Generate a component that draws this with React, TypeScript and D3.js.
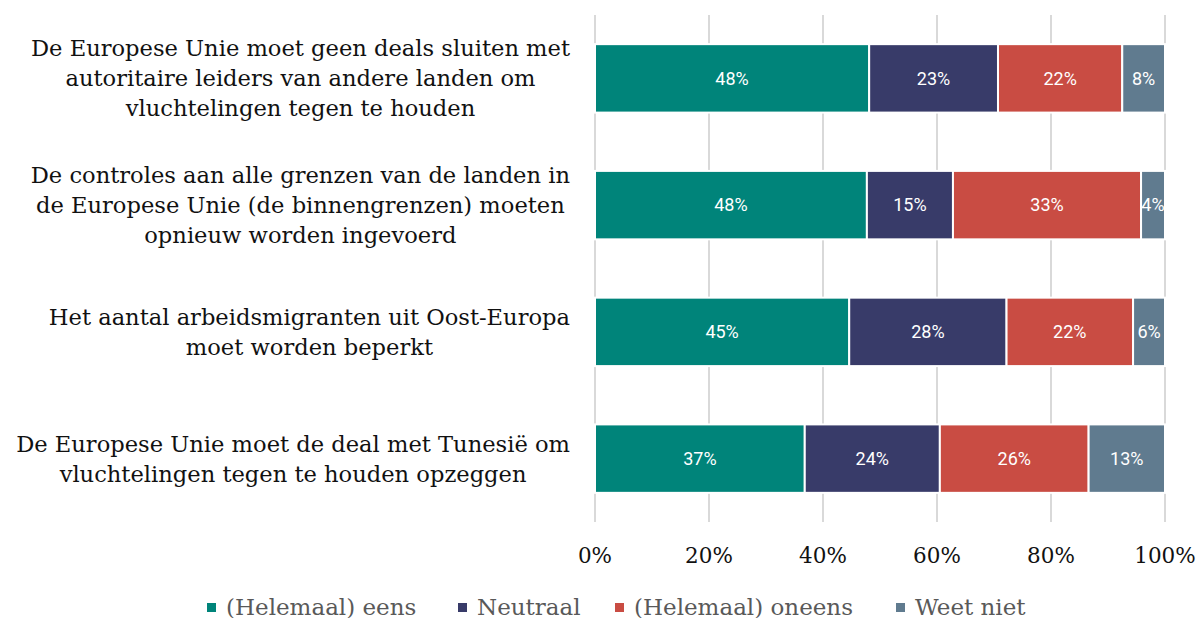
import React, { useEffect, useRef } from "react";
import * as d3 from "d3";

const categories: string[][] = [
  ["De Europese Unie moet geen deals sluiten met", "autoritaire leiders van andere landen om", "vluchtelingen tegen te houden"],
  ["De controles aan alle grenzen van de landen in", "de Europese Unie (de binnengrenzen) moeten", "opnieuw worden ingevoerd"],
  ["Het aantal arbeidsmigranten uit Oost-Europa", "moet worden beperkt"],
  ["De Europese Unie moet de deal met Tunesië om", "vluchtelingen tegen te houden opzeggen"],
];
const seriesNames = ["(Helemaal) eens", "Neutraal", "(Helemaal) oneens", "Weet niet"];
const eens = [48.1, 47.7, 44.6, 36.8];
const neutraal = [22.6, 15.1, 27.6, 23.7];
const oneens = [21.8, 33.0, 22.2, 26.1];
const weetNiet = [7.5, 4.2, 5.6, 13.4];
const tickValues = [0, 20, 40, 60, 80, 100];
const colors = ["#00847a", "#383b69", "#c94c43", "#607b8f"];

const W = 1201, H = 618;
const serif = "'DejaVu Serif', serif";
const sans = "Roboto, 'Open Sans', sans-serif";

export default function App() {
  const ref = useRef<SVGSVGElement>(null);
  useEffect(() => {
    const svg = d3.select(ref.current);
    svg.selectAll("*").remove();
    const x = d3.scaleLinear().domain([0, 100]).range([595, 1165]);
    const y = d3.scaleBand<number>().domain(d3.range(categories.length)).range([15, 522]).paddingInner(0.46).paddingOuter(0.23);
    const series = [eens, neutraal, oneens, weetNiet];

    svg.append("g").selectAll("line").data(tickValues).join("line")
      .attr("x1", d => x(d)).attr("x2", d => x(d)).attr("y1", 15).attr("y2", 522)
      .attr("stroke", "#d9d9d9").attr("stroke-width", 2);

    const gBars = svg.append("g");
    categories.forEach((_, i) => {
      let cum = 0;
      series.forEach((s, k) => {
        const v = s[i];
        const x0 = x(cum), x1 = x(cum + v);
        gBars.append("rect").attr("x", x0).attr("y", y(i)!).attr("width", x1 - x0).attr("height", y.bandwidth())
          .attr("fill", colors[k]).attr("stroke", "#fff").attr("stroke-width", 2);
        gBars.append("text").attr("x", (x0 + x1) / 2).attr("y", y(i)! + y.bandwidth() / 2)
          .attr("dy", "0.35em").attr("text-anchor", "middle").attr("fill", "#fff")
          .style("font-family", sans).style("font-size", "18px")
          .text(Math.round(v) + "%");
        cum += v;
      });
    });

    const gLab = svg.append("g");
    categories.forEach((lines, i) => {
      const t = gLab.append("text").attr("text-anchor", "middle")
        .style("font-family", serif).style("font-size", "22.6px").attr("fill", "#111");
      const cy = y(i)! + y.bandwidth() / 2;
      const lh = 30;
      lines.forEach((ln, j) => {
        t.append("tspan").attr("x", 0).attr("y", cy + (j - (lines.length - 1) / 2) * lh).attr("dy", "0.35em").text(ln);
      });
      let maxW = 0;
      t.selectAll<SVGTSpanElement, unknown>("tspan").each(function () {
        maxW = Math.max(maxW, this.getComputedTextLength());
      });
      const cx = 570 - maxW / 2;
      t.selectAll("tspan").attr("x", cx);
    });

    svg.append("g").selectAll("text").data(tickValues).join("text")
      .attr("x", d => x(d)).attr("y", 555).attr("dy", "0.35em").attr("text-anchor", "middle")
      .style("font-family", serif).style("font-size", "21.5px").attr("fill", "#111")
      .text(d => d + "%");

    const gLeg = svg.append("g");
    const starts = [207, 458, 615, 896];
    seriesNames.forEach((n, k) => {
      gLeg.append("rect").attr("x", starts[k]).attr("y", 603).attr("width", 9).attr("height", 9).attr("fill", colors[k]);
      gLeg.append("text").attr("x", starts[k] + 19).attr("y", 607).attr("dy", "0.35em")
        .style("font-family", serif).style("font-size", "23px").attr("fill", "#595959").text(n);
    });
  }, []);
  return <svg ref={ref} width={W} height={H} style={{ position: "absolute", left: 0, top: 0, background: "#fff" }} />;
}
